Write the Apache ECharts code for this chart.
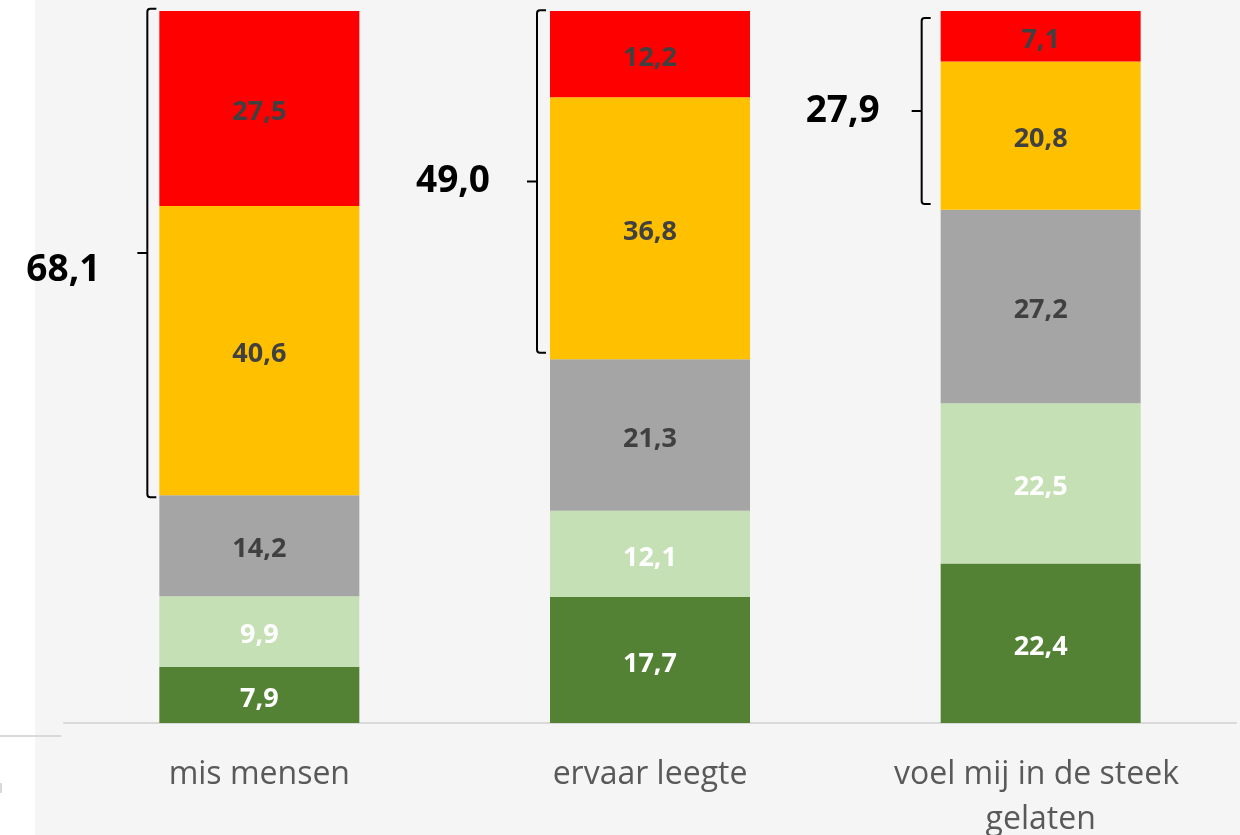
<!DOCTYPE html>
<html>
<head>
<meta charset="utf-8">
<style>
  html, body { margin: 0; padding: 0; background: #ffffff; }
  #chart { width: 1240px; height: 835px; }
</style>
<script src="https://cdn.jsdelivr.net/npm/echarts@6/dist/echarts.min.js"></script>
</head>
<body>
<div id="chart"></div>
<script>
// ---- data ----
const categories = ['mis mensen', 'ervaar leegte', 'voel mij in de steek gelaten'];
const seriesNames = ['s1', 's2', 's3', 's4', 's5'];
const darkGreen  = [7.9, 17.7, 22.4];
const lightGreen = [9.9, 12.1, 22.5];
const grey       = [14.2, 21.3, 27.2];
const orange     = [40.6, 36.8, 20.8];
const red        = [27.5, 12.2, 7.1];
const bracketTotals = [68.1, 49.0, 27.9];
const bracketFrom   = [31.7, 52.0, 72.9];
const bracketTo     = [100.3, 100.1, 99.0];

// ---- style ----
const colors = ['#548235', '#c5e0b4', '#a5a5a5', '#ffc000', '#ff0000'];
const labelColors = ['#ffffff', '#ffffff', '#404040', '#404040', '#404040'];
const bracketXOffset = [-12, -13, -19];   // px from bar left edge
const totalLabelDy = [17, 0, 0];
const totalLabelDx = [0, 0, 5];
const FONT = '"Open Sans", "Noto Sans", sans-serif';
const BAR_W = 200;

const fmt = v => v.toFixed(1).replace('.', ',');
const seriesData = [darkGreen, lightGreen, grey, orange, red];

const chart = echarts.init(document.getElementById('chart'));

const barSeries = seriesData.map((arr, i) => ({
  name: seriesNames[i],
  type: 'bar',
  stack: 'total',
  barWidth: BAR_W,
  data: arr,
  itemStyle: { color: colors[i] },
  label: {
    show: true,
    position: 'inside',
    offset: [0, 4],
    color: labelColors[i],
    fontFamily: FONT,
    fontWeight: 'bold',
    fontSize: 27,
    formatter: p => fmt(p.value)
  }
}));

const bracketData = categories.map((c, i) => [i, bracketFrom[i], bracketTo[i], bracketTotals[i]]);

const bracketSeries = {
  type: 'custom',
  z: 5,
  data: bracketData,
  renderItem: function (params, api) {
    const idx = api.value(0);
    const pLow = api.coord([idx, api.value(1)]);
    const pHigh = api.coord([idx, api.value(2)]);
    const x = pLow[0] - BAR_W / 2 + bracketXOffset[idx];
    const yTop = pHigh[1];
    const yBot = pLow[1];
    const yMid = (yTop + yBot) / 2;
    const hook = 9, r = 3, tick = 10;
    const path =
      'M' + (x + hook) + ',' + yTop +
      ' L' + (x + r) + ',' + yTop +
      ' Q' + x + ',' + yTop + ' ' + x + ',' + (yTop + r) +
      ' L' + x + ',' + (yBot - r) +
      ' Q' + x + ',' + yBot + ' ' + (x + r) + ',' + yBot +
      ' L' + (x + hook) + ',' + yBot +
      ' M' + x + ',' + yMid + ' L' + (x - tick) + ',' + yMid;
    return {
      type: 'group',
      children: [
        {
          type: 'path',
          shape: { pathData: path },
          style: { stroke: '#000000', lineWidth: 2, fill: null }
        },
        {
          type: 'text',
          style: {
            x: x - tick - 37 + totalLabelDx[idx],
            y: yMid + totalLabelDy[idx],
            text: fmt(api.value(3)),
            fill: '#000000',
            font: 'bold 37px ' + FONT,
            align: 'right',
            verticalAlign: 'middle'
          }
        }
      ]
    };
  }
};

chart.setOption({
  animation: false,
  backgroundColor: 'transparent',
  graphic: [
    { type: 'rect', z: -10, shape: { x: 35, y: 0, width: 1205, height: 835 }, style: { fill: '#f5f5f5' } },
    { type: 'rect', z: -9, shape: { x: 0, y: 735, width: 61, height: 2 }, style: { fill: '#d9d9d9' } },
    { type: 'rect', z: -9, shape: { x: 0, y: 783, width: 2, height: 10 }, style: { fill: '#d9d9d9' } }
  ],
  grid: { left: 64, right: 4, top: 11, bottom: 112, containLabel: false, outerBoundsMode: 'none' },
  xAxis: {
    type: 'category',
    data: categories,
    axisLine: { show: true, lineStyle: { color: '#d9d9d9', width: 2 } },
    axisTick: { show: false },
    axisLabel: {
      color: '#595959',
      fontFamily: FONT,
      fontSize: 32,
      lineHeight: 45,
      margin: 29,
      width: 340,
      overflow: 'break',
      interval: 0
    }
  },
  yAxis: {
    type: 'value',
    min: 0,
    max: 100,
    show: false,
    splitLine: { show: false }
  },
  series: barSeries.concat([bracketSeries])
});
</script>
</body>
</html>
